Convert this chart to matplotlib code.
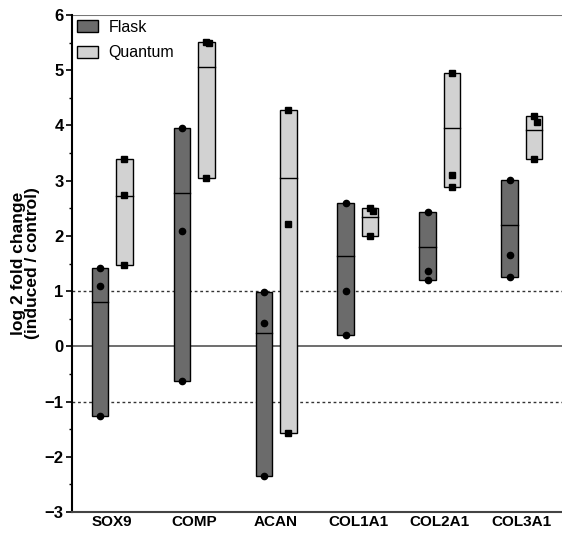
import matplotlib
matplotlib.use('Agg')
from matplotlib import pyplot as plt
from matplotlib.patches import Patch
import numpy as np

genes = ['SOX9', 'COMP', 'ACAN', 'COL1A1', 'COL2A1', 'COL3A1']

# valores individuais (3 por gene) e linha central de cada barra
flask_pts = [
    [1.41, 1.09, -1.27],
    [3.95, 2.08, -0.63],
    [0.98, 0.43, -2.35],
    [2.60, 1.01, 0.21],
    [2.44, 1.36, 1.21],
    [3.02, 1.65, 1.25],
]
flask_line = [0.80, 2.77, 0.24, 1.63, 1.79, 2.19]

quantum_pts = [
    [3.40, 2.74, 1.47],
    [5.52, 5.50, 3.04],
    [4.28, 2.22, -1.57],
    [2.51, 2.45, 2.00],
    [4.95, 3.11, 2.89],
    [4.17, 4.07, 3.40],
]
quantum_line = [2.73, 5.05, 3.04, 2.35, 3.96, 3.92]

plt.rcParams['font.family'] = ['Liberation Sans', 'DejaVu Sans']

fig = plt.figure(figsize=(5.62, 5.33), dpi=100)
ax = fig.add_axes([72 / 562, 21 / 533, 1 - 72 / 562, (512 - 15) / 533])

x = np.arange(len(genes))
offset = 0.15
largura = 0.2


def desenha(pos, pts, linhas, cor, marcador):
    for xi, vals, med in zip(pos, pts, linhas):
        lo, hi = min(vals), max(vals)
        ax.bar(xi, hi - lo, bottom=lo, width=largura, color=cor,
               edgecolor='black', linewidth=1.0, zorder=3)
        ax.plot([xi - largura / 2, xi + largura / 2], [med, med],
                color='black', linewidth=1.0, zorder=4)
        # desloca pontos muito próximos para não se sobreporem
        ordenados = sorted(vals, reverse=True)
        for k, v in enumerate(ordenados):
            dx = 0.0
            if k > 0 and abs(ordenados[k - 1] - v) < 0.12:
                dx = 0.035
            ax.plot(xi + dx, v, marker=marcador, color='black',
                    markersize=4.5, linestyle='none', zorder=5)


desenha(x - offset, flask_pts, flask_line, '#6b6b6b', 'o')
desenha(x + offset, quantum_pts, quantum_line, '#d2d2d2', 's')

# linhas de referência
ax.axhline(0, color='#555555', linewidth=1.2, zorder=1)
ax.axhline(1, color='#333333', linewidth=1.0, linestyle=(0, (2, 2)), zorder=1)
ax.axhline(-1, color='#333333', linewidth=1.0, linestyle=(0, (2, 2)), zorder=1)
ax.axhline(6, color='#777777', linewidth=1.5, zorder=1)

ax.set_xlim(-0.49, 5.49)
ax.set_ylim(-3, 6)
ax.set_yticks(range(-3, 7))
ax.set_yticks(np.arange(-3, 6.01, 0.5), minor=True)
ax.set_xticks(x)
ax.set_xticklabels(genes, fontsize=11, fontweight='bold')
ax.tick_params(axis='x', length=0, pad=2)
ax.tick_params(axis='y', labelsize=12, width=1.2, length=4, pad=2)
ax.tick_params(axis='y', which='minor', width=1.0, length=2.5)
for lab in ax.get_yticklabels():
    lab.set_fontweight('bold')

for lado in ['top', 'right']:
    ax.spines[lado].set_visible(False)
ax.spines['left'].set_linewidth(1.5)
ax.spines['bottom'].set_linewidth(1.5)
ax.spines['bottom'].set_color('#444444')

ax.set_ylabel('log 2 fold change\n(induced / control)', fontsize=12.5,
              fontweight='bold', labelpad=3, linespacing=1.0)

handles = [Patch(facecolor='#6b6b6b', edgecolor='black', label='Flask'),
           Patch(facecolor='#d2d2d2', edgecolor='black', label='Quantum')]
ax.legend(handles=handles, loc='upper left', frameon=False, fontsize=11.5,
          handlelength=1.3, handleheight=0.8, borderaxespad=0.0,
          borderpad=0.3, handletextpad=0.7, labelspacing=0.65)

fig.savefig('out.png', dpi=100)
